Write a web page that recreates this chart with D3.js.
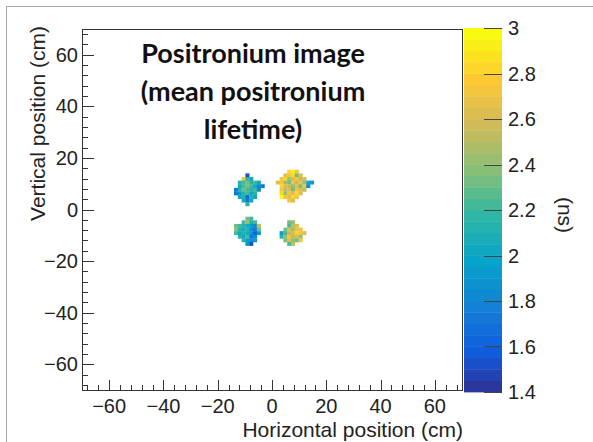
<!DOCTYPE html>
<html>
<head>
<meta charset="utf-8">
<script src="https://d3js.org/d3.v7.min.js"></script>
<style>
body { margin: 0; background: #fff; }
text { font-family: "Liberation Sans", Arial, sans-serif; fill: #222; }
</style>
</head>
<body>
<svg id="chart" width="593" height="442"></svg>
<script>
// 100 x 100 bins over -70..70 cm on both axes
const binSize = 1.4;
const xRange = [-70, 70];
const yRange = [-70, 70];
const xTicks = [-60, -40, -20, 0, 20, 40, 60];
const yTicks = [-60, -40, -20, 0, 20, 40, 60];
const zRange = [1.4, 3];
const zTicks = [1.4, 1.6, 1.8, 2, 2.2, 2.4, 2.6, 2.8, 3];
const nContours = 32;
const titleLines = ["Positronium image", "(mean positronium", "lifetime)"];

// each blob: first x bin (from -70), first y bin (from +70 going down), then rows of values in ns
const ulStart = [40, 40];
const ulValues = [
  [null, null, null, 1.5, null, null, null, null],
  [null, null, 2.7, 2.1, 2.0, null, null, null],
  [null, 2.1, 2.2, 2.3, 2.1, 2.2, 2.0, null],
  [null, 2.0, 2.2, 2.3, 2.2, 2.0, 1.8, 1.7],
  [1.7, 2.1, 2.3, 2.2, 2.1, 2.2, 1.8, null],
  [1.7, 1.9, 2.1, 2.2, 2.0, 2.1, null, null],
  [null, 2.0, 2.1, 1.6, 2.1, 2.0, null, null],
  [null, null, 2.0, 1.7, 2.0, null, null, null],
  [null, null, null, 2.1, null, null, null, null]
];
const urStart = [51, 39];
const urValues = [
  [null, null, null, 2.8, 2.9, 2.7, null, null, null, null],
  [null, null, 2.6, 2.7, 2.8, 2.3, 2.6, null, null, null],
  [null, 2.7, 2.8, 2.4, 2.6, 2.7, 2.5, 2.6, null, null],
  [2.6, 2.7, 2.4, 2.3, 2.7, 2.5, 2.7, 2.4, 2.0, 1.9],
  [null, 2.8, 2.6, 2.5, 2.4, 2.6, 2.3, 2.7, 1.8, null],
  [null, 2.7, 2.5, 2.6, 2.3, 2.7, 2.6, 2.5, null, null],
  [null, 2.8, 2.4, 2.7, 2.6, 2.8, 2.6, null, null, null],
  [null, 3.0, 2.7, 2.6, 2.8, 2.7, null, null, null, null],
  [null, null, null, 2.7, 2.6, null, null, null, null, null]
];
const llStart = [40, 52];
const llValues = [
  [null, null, null, 2.3, 2.2, null, null, null],
  [null, null, 2.2, 2.4, 2.1, 2.2, null, null],
  [2.3, 2.2, 2.1, 2.0, 1.9, 1.8, 2.5, null],
  [2.4, 2.1, 2.0, 2.1, 1.8, 1.7, 2.3, null],
  [2.2, 2.0, 2.1, 2.0, 1.9, 1.6, 1.9, null],
  [null, 2.1, 2.0, 2.2, 1.7, 1.8, null, null],
  [null, null, 2.1, 1.9, 1.8, 1.9, null, null],
  [null, null, null, 1.9, 1.5, null, null, null]
];
const lrStart = [52, 53];
const lrValues = [
  [null, null, 2.3, 2.4, null, null, null],
  [null, null, 2.2, 2.5, 2.6, null, null],
  [null, 2.3, 2.6, 2.4, 2.7, 2.7, null],
  [1.9, 2.2, 2.5, 2.6, 2.8, 2.7, 2.6],
  [2.1, 2.4, 2.7, 2.5, 2.6, 2.4, null],
  [null, 2.3, 2.6, 2.4, 2.3, 2.7, null],
  [null, null, 2.2, 2.5, null, null, null]
];

// ROOT kBird palette
const birdStops = [0, 0.125, 0.25, 0.375, 0.5, 0.625, 0.75, 0.875, 1];
const birdR = [0.2082, 0.0592, 0.0780, 0.0232, 0.1802, 0.5301, 0.8186, 0.9956, 0.9764];
const birdG = [0.1664, 0.3599, 0.5041, 0.6419, 0.7178, 0.7492, 0.7328, 0.7862, 0.9832];
const birdB = [0.5293, 0.8684, 0.8385, 0.7914, 0.6425, 0.4662, 0.3499, 0.1968, 0.0539];

const svg = d3.select("#chart");
const W = 593, H = 442;
const frame = { left: 82, right: 462, top: 29, bottom: 390 };
const bar = { left: 464, right: 502 };

const x = d3.scaleLinear().domain(xRange).range([frame.left, frame.right]);
const y = d3.scaleLinear().domain(yRange).range([frame.bottom, frame.top]);
const z = d3.scaleLinear().domain(zRange).range([392, 28]);

const birdScale = d3.scaleLinear().domain(birdStops)
  .range(birdStops.map((s, i) => d3.rgb(birdR[i] * 255, birdG[i] * 255, birdB[i] * 255)))
  .interpolate(d3.interpolateRgb);

const step = (zRange[1] - zRange[0]) / nContours;
function bandColor(i) {
  return birdScale(Math.min(1, (i + 0.99) / nContours));
}
function valueColor(v) {
  let i = Math.floor((v - zRange[0]) / step + 1e-9);
  i = Math.max(0, Math.min(nContours - 1, i));
  return bandColor(i);
}
const fmtTick = d => d < 0 ? "\u2212" + Math.abs(d) : String(d);

// outer canvas border
svg.append("line").attr("x1", 6).attr("x2", W).attr("y1", 6.5).attr("y2", 6.5)
  .attr("stroke", "#aaa").attr("stroke-width", 1);
svg.append("line").attr("x1", 6.5).attr("x2", 6.5).attr("y1", 6).attr("y2", H)
  .attr("stroke", "#aaa").attr("stroke-width", 1);

// histogram cells
const cells = [];
[[ulStart, ulValues], [urStart, urValues], [llStart, llValues], [lrStart, lrValues]].forEach(([st, rows]) => {
  rows.forEach((row, r) => {
    row.forEach((v, c) => {
      if (v === null) return;
      const x0 = xRange[0] + (st[0] + c) * binSize;
      const y0 = yRange[1] - (st[1] + r) * binSize;
      cells.push({ x0: x0, x1: x0 + binSize, y0: y0, y1: y0 - binSize, v: v });
    });
  });
});

svg.append("g").selectAll("rect").data(cells).join("rect")
  .attr("x", d => x(d.x0))
  .attr("y", d => y(d.y0))
  .attr("width", d => x(d.x1) - x(d.x0) + 0.3)
  .attr("height", d => y(d.y1) - y(d.y0) + 0.3)
  .attr("fill", d => valueColor(d.v));

// frame
svg.append("rect")
  .attr("x", frame.left + 0.5).attr("y", frame.top + 0.5)
  .attr("width", frame.right - frame.left).attr("height", frame.bottom - frame.top)
  .attr("fill", "none").attr("stroke", "#333").attr("stroke-width", 1);

// x axis ticks (inside, ROOT style)
const gx = svg.append("g");
gx.selectAll("line.minor").data(d3.range(-68, 70, 4)).join("line")
  .attr("x1", d => Math.round(x(d)) + 0.5).attr("x2", d => Math.round(x(d)) + 0.5)
  .attr("y1", frame.bottom).attr("y2", frame.bottom - 5)
  .attr("stroke", "#333");
gx.selectAll("line.major").data(xTicks).join("line")
  .attr("x1", d => Math.round(x(d)) + 0.5).attr("x2", d => Math.round(x(d)) + 0.5)
  .attr("y1", frame.bottom).attr("y2", frame.bottom - 10)
  .attr("stroke", "#333");
gx.selectAll("text").data(xTicks).join("text")
  .attr("x", d => x(d)).attr("y", 413)
  .attr("text-anchor", "middle").attr("font-size", 20)
  .text(fmtTick);
svg.append("text").attr("x", frame.right + 1).attr("y", 437)
  .attr("text-anchor", "end").attr("font-size", 21)
  .text("Horizontal position (cm)");

// y axis ticks
const gy = svg.append("g");
gy.selectAll("line.minor").data(d3.range(-68, 70, 4)).join("line")
  .attr("y1", d => Math.round(y(d)) + 0.5).attr("y2", d => Math.round(y(d)) + 0.5)
  .attr("x1", frame.left).attr("x2", frame.left + 6)
  .attr("stroke", "#333");
gy.selectAll("line.major").data(yTicks).join("line")
  .attr("y1", d => Math.round(y(d)) + 0.5).attr("y2", d => Math.round(y(d)) + 0.5)
  .attr("x1", frame.left).attr("x2", frame.left + 12)
  .attr("stroke", "#333");
gy.selectAll("text").data(yTicks).join("text")
  .attr("x", 78).attr("y", d => y(d) + 7)
  .attr("text-anchor", "end").attr("font-size", 20)
  .text(fmtTick);
svg.append("text")
  .attr("transform", `translate(45,${frame.top - 3}) rotate(-90)`)
  .attr("text-anchor", "end").attr("font-size", 21)
  .text("Vertical position (cm)");

// colour bar
const bands = d3.range(nContours);
svg.append("g").selectAll("rect").data(bands).join("rect")
  .attr("x", bar.left)
  .attr("y", i => z(zRange[0] + (i + 1) * step))
  .attr("width", bar.right - bar.left)
  .attr("height", i => z(zRange[0] + i * step) - z(zRange[0] + (i + 1) * step) + 0.4)
  .attr("fill", i => bandColor(i));
const gz = svg.append("g");
gz.selectAll("line").data(zTicks).join("line")
  .attr("y1", d => Math.round(z(d)) + 0.5).attr("y2", d => Math.round(z(d)) + 0.5)
  .attr("x1", bar.right).attr("x2", bar.right - 18)
  .attr("stroke", "#444");
gz.selectAll("text").data(zTicks).join("text")
  .attr("x", 508).attr("y", d => z(d) + 7)
  .attr("font-size", 20)
  .text(d => String(d));
svg.append("text")
  .attr("transform", `translate(558,215) rotate(90)`)
  .attr("text-anchor", "middle").attr("font-size", 21)
  .text("(ns)");

// title block
svg.append("g").selectAll("text").data(titleLines).join("text")
  .attr("x", 253).attr("y", (d, i) => 63 + i * 38)
  .attr("text-anchor", "middle")
  .style("font-family", "Lato, 'Open Sans', sans-serif")
  .attr("font-weight", 700).attr("font-size", 27)
  .style("fill", "#111")
  .text(d => d);
</script>
</body>
</html>
